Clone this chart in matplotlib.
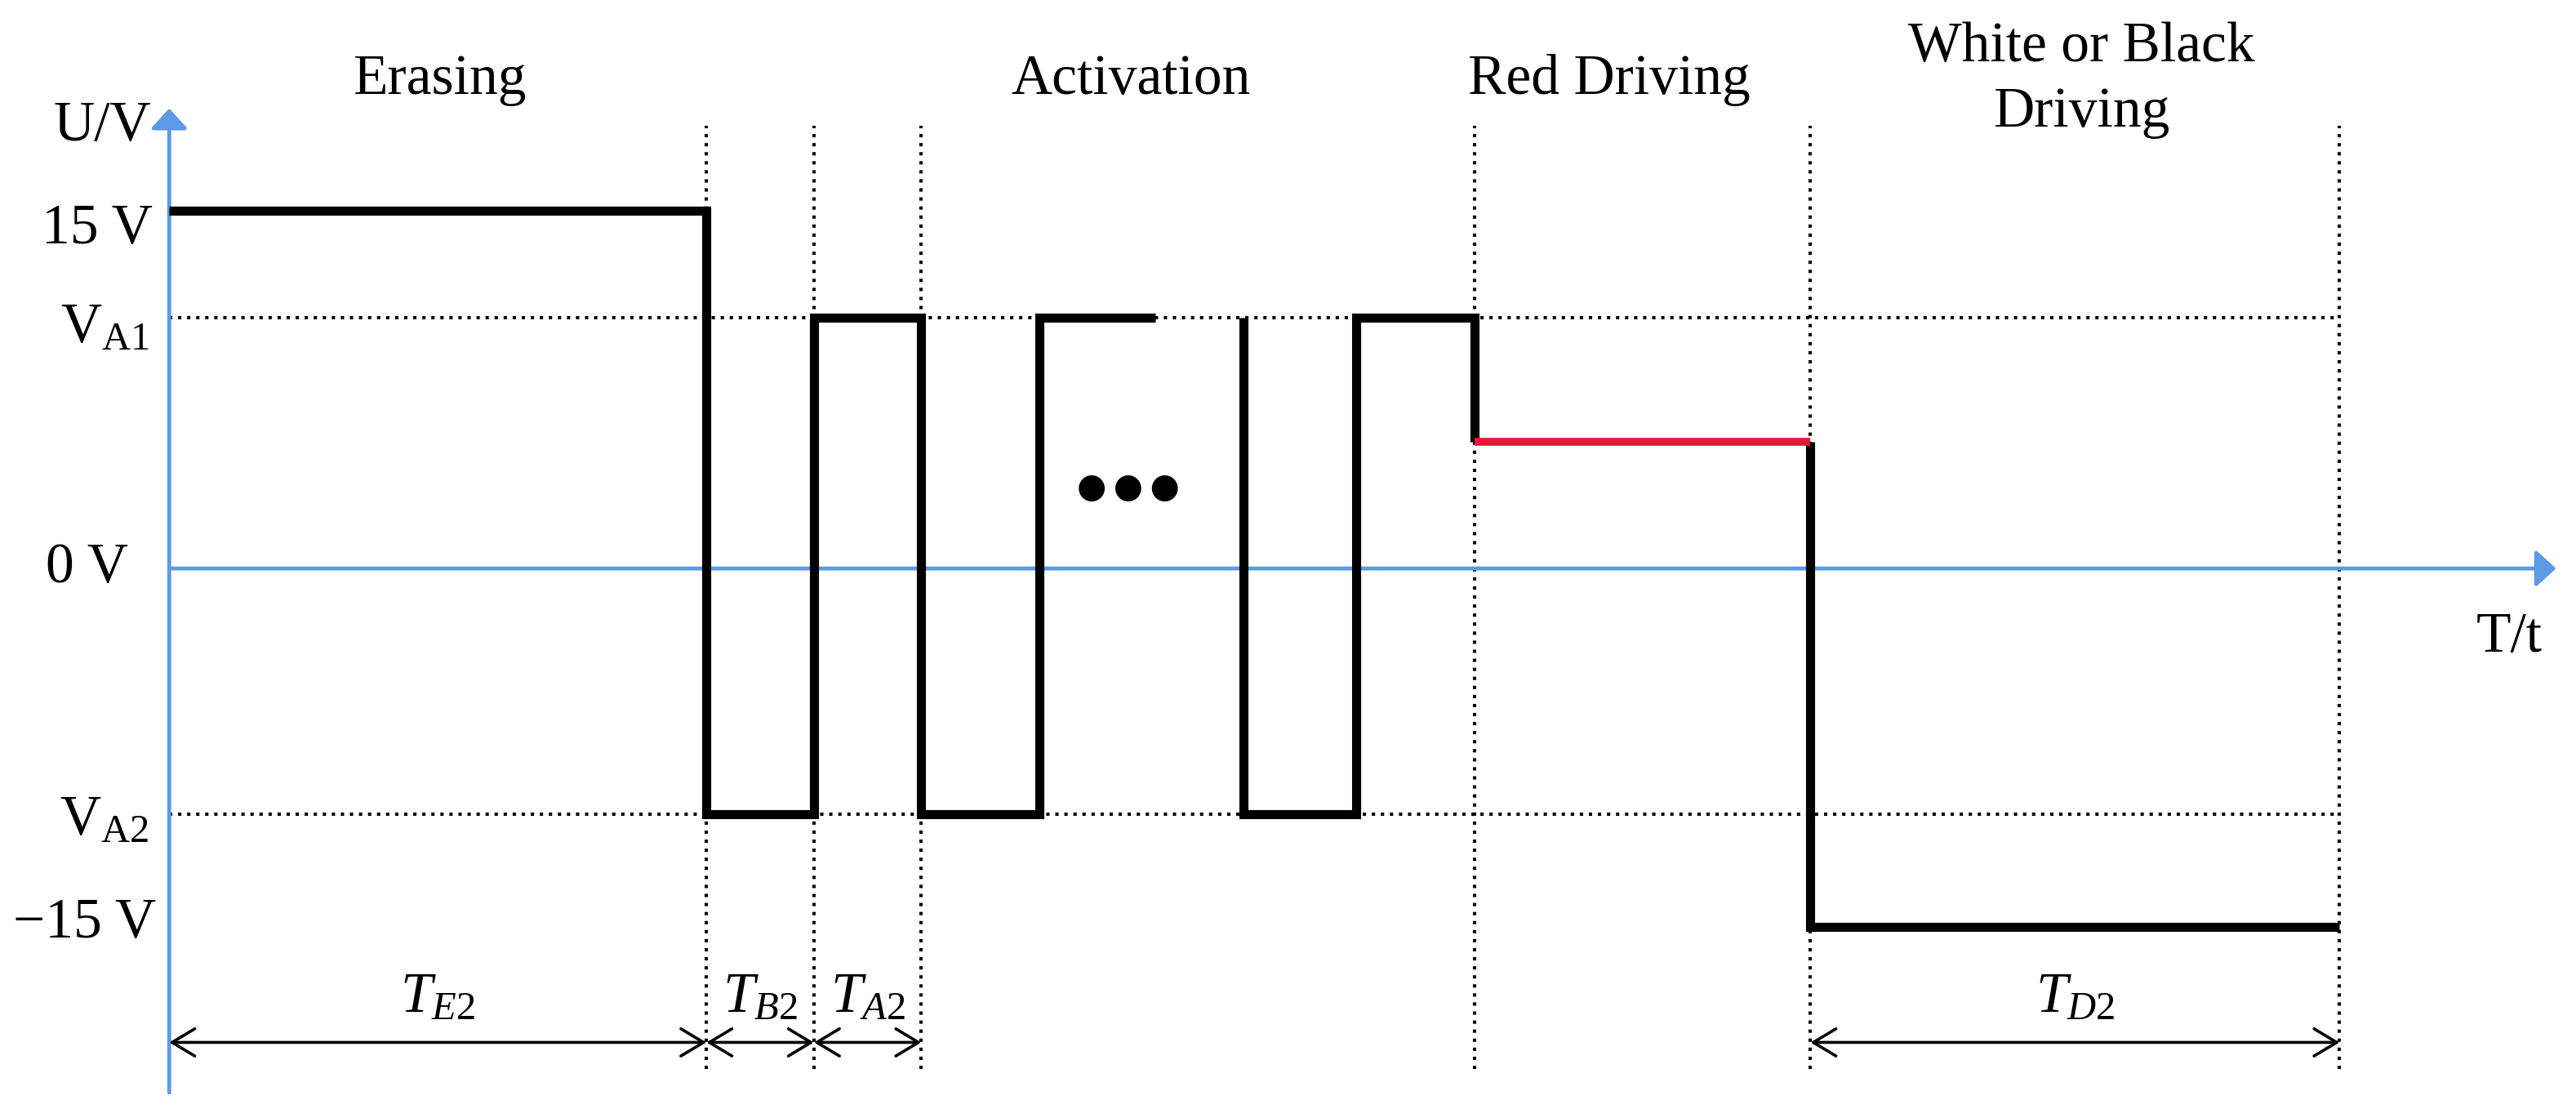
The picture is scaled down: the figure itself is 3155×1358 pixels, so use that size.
import matplotlib.pyplot as plt

plt.rcParams["font.family"] = "Liberation Serif"
plt.rcParams["mathtext.fontset"] = "custom"
plt.rcParams["mathtext.rm"] = "Liberation Serif"
plt.rcParams["mathtext.it"] = "Liberation Serif:italic"

BLUE = "#5C9AE6"
RED = "#E0193A"

# voltage levels
V_HIGH = 15
V_A1 = 10.5
V_RED = 5.3
V_A2 = -10.3
V_LOW = -15

# waveform pieces: breakpoint times and levels (steps-post)
burst1_t = [0, 10, 12, 14, 16.2, 18.35]
burst1_v = [V_HIGH, V_A2, V_A1, V_A2, V_A1, V_A1]
burst2_t = [20, 20, 22.1, 24.3, 24.3]
burst2_v = [V_A1, V_A2, V_A1, V_RED, V_RED]
red_t = [24.3, 30.55]
red_v = [V_RED, V_RED]
drive_t = [30.55, 30.55, 40.4]
drive_v = [V_RED, V_LOW, V_LOW]

# phase boundaries (dotted guides) and timing spans
guide_x = [10, 12, 14, 24.3, 30.55, 40.4]
span_start = [0, 10, 12, 30.55]
span_end = [10, 12, 14, 40.4]
span_names = ["E2", "B2", "A2", "D2"]

phase_names = ["Erasing", "Activation", "Red Driving", "White or Black\nDriving"]
phase_x = [5.05, 17.9, 26.8, 35.6]

level_vals = [V_HIGH, V_A1, 0, V_A2, V_LOW]
level_names = ["15 V", r"$\mathrm{V}_{\mathrm{A1}}$", "0 V",
               r"$\mathrm{V}_{\mathrm{A2}}$", "\u221215 V"]
level_dy = [-0.8, -0.45, 0, -0.3, 0.13]
level_xr = [-0.31, -0.37, -0.76, -0.37, -0.24]

fig = plt.figure(figsize=(31.55, 13.58), dpi=100)
ax = fig.add_axes([0, 0, 1, 1])
ax.set_xlim(-3.15, 44.80)
ax.set_ylim(-22.64, 23.81)
ax.axis("off")

dot = (0, (1, 1.75))

# dotted guides
for x in guide_x:
    ax.plot([x, x], [-20.95, 18.55], color="black", lw=2.9, ls=dot, zorder=1)
for v in [V_A1, V_A2]:
    ax.plot([0, guide_x[-1]], [v, v], color="black", lw=2.9, ls=dot, zorder=1)

# axes with arrows
axis_arrow = dict(arrowstyle="-|>,head_length=1.5,head_width=1.37",
                  lw=3.5, color=BLUE, shrinkA=0, shrinkB=0, mutation_scale=10)
ax.annotate("", xy=(0, 19.27), xytext=(0, -21.95), arrowprops=axis_arrow, zorder=2)
ax.annotate("", xy=(44.43, 0), xytext=(0, 0), arrowprops=axis_arrow, zorder=2)

# waveform
for t, v in [(burst1_t, burst1_v), (burst2_t, burst2_v), (drive_t, drive_v)]:
    ax.plot(t, v, drawstyle="steps-post", color="black", lw=8,
            solid_joinstyle="miter", solid_capstyle="butt", zorder=3)
ax.plot(red_t, red_v, color=RED, lw=7, solid_capstyle="butt", zorder=3)

# timing spans
for a, b, name in zip(span_start, span_end, span_names):
    ax.annotate("", xy=(b, -19.85), xytext=(a, -19.85),
                arrowprops=dict(arrowstyle="<->,head_length=2.0,head_width=1.2",
                                lw=2.6, color="black", shrinkA=0, shrinkB=0,
                                mutation_scale=10), zorder=4)
    ax.text((a + b) / 2, -18.0, r"$\mathit{T}_{\mathit{%s}}$" % name,
            fontsize=50, ha="center", va="center")

# phase titles
for x, name in zip(phase_x, phase_names):
    ax.text(x, 20.45, name, fontsize=50, ha="center", va="center",
            linespacing=1.35)

# level labels
for v, name, dy, xr in zip(level_vals, level_names, level_dy, level_xr):
    ax.text(xr, v + dy, name, fontsize=50, ha="right", va="center")

ax.text(-1.25, 18.5, "U/V", fontsize=50, ha="center", va="center")
ax.text(43.55, -2.9, "T/t", fontsize=50, ha="center", va="center")
ax.text(17.85, 3.4, "\u25cf\u2009\u25cf\u2009\u25cf", fontsize=30,
        family="DejaVu Sans", ha="center", va="center")

fig.savefig("out.png", dpi=100)
